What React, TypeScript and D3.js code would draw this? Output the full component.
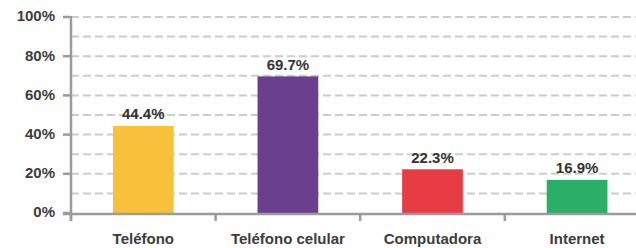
import React from "react";
import * as d3 from "d3";

const categories = ["Teléfono", "Teléfono celular", "Computadora", "Internet"];
const values = [44.4, 69.7, 22.3, 16.9];
const colors = ["#F9C03A", "#6A3F8E", "#E83C44", "#2BAE66"];
const yTicks = [0, 20, 40, 60, 80, 100];
const gridValues = [10, 20, 30, 40, 50, 60, 70, 80, 90, 100];

export default function App() {
  const W = 636, H = 248;
  const x0 = 71;
  const band = 144.6;
  const x = d3.scaleBand<string>().domain(categories).range([x0, x0 + band * categories.length]).paddingInner(0.58).paddingOuter(0.29);
  const y = d3.scaleLinear().domain([0, 100]).range([213, 17]);
  const font = "'Liberation Sans', Arial, sans-serif";
  return (
    <svg width={W} height={H} style={{ position: "absolute", left: 0, top: 0 }}>
      <rect width={W} height={H} fill="#fff" />
      {gridValues.map((v) => (
        <line key={v} x1={x0} x2={W} y1={y(v)} y2={y(v)} stroke="#cccccc" strokeWidth={2} strokeDasharray="8,4" />
      ))}
      {categories.map((c, i) => (
        <rect key={c} x={x(c)} y={y(values[i])} width={x.bandwidth()} height={y(0) - y(values[i])} fill={colors[i]} />
      ))}
      {/* y axis */}
      <line x1={x0} x2={x0} y1={y(100) - 1} y2={221} stroke="#9b9b9b" strokeWidth={2.5} />
      {yTicks.map((t) => (
        <g key={t}>
          <line x1={63} x2={x0} y1={y(t)} y2={y(t)} stroke="#9b9b9b" strokeWidth={2.5} />
          <text x={55} y={y(t) - 1} dy="0.36em" textAnchor="end" fontFamily={font} fontSize={15} fontWeight="bold" fill="#3c3c3c">{t}%</text>
        </g>
      ))}
      {/* x axis */}
      <line x1={63} x2={W} y1={y(0) + 1} y2={y(0) + 1} stroke="#9b9b9b" strokeWidth={2.5} />
      {categories.map((c, i) => (
        <line key={c} x1={x0 + band * i} x2={x0 + band * i} y1={y(0)} y2={221} stroke="#9b9b9b" strokeWidth={2.5} />
      ))}
      {categories.map((c, i) => (
        <text key={c} x={(x(c) ?? 0) + x.bandwidth() / 2} y={244} textAnchor="middle" fontFamily={font} fontSize={15} fontWeight="bold" fill="#3c3c3c">{c}</text>
      ))}
      {categories.map((c, i) => (
        <text key={c} x={(x(c) ?? 0) + x.bandwidth() / 2} y={y(values[i]) - 6.5} textAnchor="middle" fontFamily={font} fontSize={15} fontWeight="bold" fill="#333">{values[i].toFixed(1)}%</text>
      ))}
    </svg>
  );
}
